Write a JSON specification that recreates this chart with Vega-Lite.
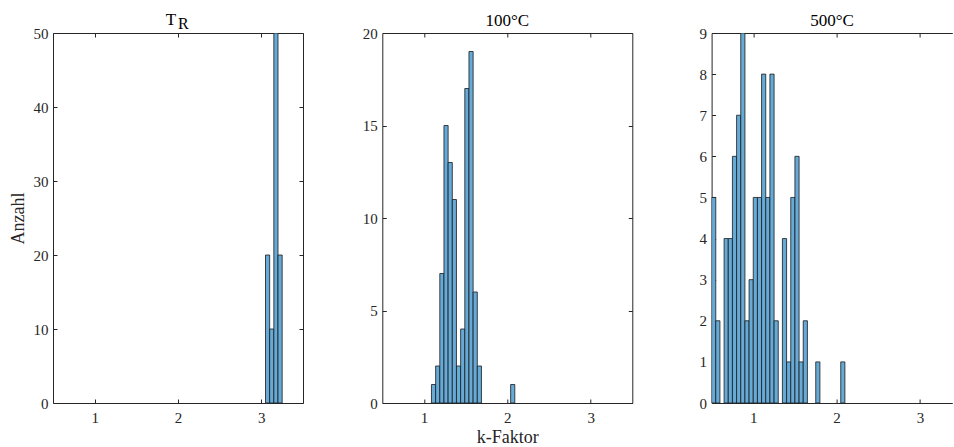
{
  "$schema": "https://vega.github.io/schema/vega-lite/v6.json",
  "padding": {"left": 9, "top": 10, "right": 0, "bottom": 1},
  "spacing": 79.3,
  "bounds": "flush",
  "data": {"values": [
    {"temp": "TR", "k0": 3.05, "k1": 3.10, "anzahl": 20},
    {"temp": "TR", "k0": 3.10, "k1": 3.15, "anzahl": 10},
    {"temp": "TR", "k0": 3.15, "k1": 3.20, "anzahl": 50},
    {"temp": "TR", "k0": 3.20, "k1": 3.25, "anzahl": 20},
    {"temp": "100", "k0": 1.09, "k1": 1.14, "anzahl": 1},
    {"temp": "100", "k0": 1.14, "k1": 1.19, "anzahl": 2},
    {"temp": "100", "k0": 1.19, "k1": 1.24, "anzahl": 7},
    {"temp": "100", "k0": 1.24, "k1": 1.29, "anzahl": 15},
    {"temp": "100", "k0": 1.29, "k1": 1.34, "anzahl": 13},
    {"temp": "100", "k0": 1.34, "k1": 1.39, "anzahl": 11},
    {"temp": "100", "k0": 1.39, "k1": 1.44, "anzahl": 2},
    {"temp": "100", "k0": 1.44, "k1": 1.49, "anzahl": 4},
    {"temp": "100", "k0": 1.49, "k1": 1.54, "anzahl": 17},
    {"temp": "100", "k0": 1.54, "k1": 1.59, "anzahl": 19},
    {"temp": "100", "k0": 1.59, "k1": 1.64, "anzahl": 6},
    {"temp": "100", "k0": 1.64, "k1": 1.69, "anzahl": 2},
    {"temp": "100", "k0": 2.04, "k1": 2.09, "anzahl": 1},
    {"temp": "500", "k0": 0.50, "k1": 0.55, "anzahl": 5},
    {"temp": "500", "k0": 0.55, "k1": 0.60, "anzahl": 2},
    {"temp": "500", "k0": 0.65, "k1": 0.70, "anzahl": 4},
    {"temp": "500", "k0": 0.70, "k1": 0.75, "anzahl": 4},
    {"temp": "500", "k0": 0.75, "k1": 0.80, "anzahl": 6},
    {"temp": "500", "k0": 0.80, "k1": 0.85, "anzahl": 7},
    {"temp": "500", "k0": 0.85, "k1": 0.90, "anzahl": 9},
    {"temp": "500", "k0": 0.90, "k1": 0.95, "anzahl": 2},
    {"temp": "500", "k0": 0.95, "k1": 1.00, "anzahl": 3},
    {"temp": "500", "k0": 1.00, "k1": 1.05, "anzahl": 5},
    {"temp": "500", "k0": 1.05, "k1": 1.10, "anzahl": 5},
    {"temp": "500", "k0": 1.10, "k1": 1.15, "anzahl": 8},
    {"temp": "500", "k0": 1.15, "k1": 1.20, "anzahl": 5},
    {"temp": "500", "k0": 1.20, "k1": 1.25, "anzahl": 8},
    {"temp": "500", "k0": 1.25, "k1": 1.30, "anzahl": 2},
    {"temp": "500", "k0": 1.35, "k1": 1.40, "anzahl": 4},
    {"temp": "500", "k0": 1.40, "k1": 1.45, "anzahl": 1},
    {"temp": "500", "k0": 1.45, "k1": 1.50, "anzahl": 5},
    {"temp": "500", "k0": 1.50, "k1": 1.55, "anzahl": 6},
    {"temp": "500", "k0": 1.55, "k1": 1.60, "anzahl": 1},
    {"temp": "500", "k0": 1.60, "k1": 1.65, "anzahl": 2},
    {"temp": "500", "k0": 1.75, "k1": 1.80, "anzahl": 1},
    {"temp": "500", "k0": 2.05, "k1": 2.10, "anzahl": 1}
  ]},
  "config": {
    "font": "Liberation Serif",
    "view": {"stroke": null},
    "axis": {
      "grid": false,
      "domainColor": "#262626",
      "tickColor": "#262626",
      "labelColor": "#262626",
      "titleColor": "#262626",
      "labelFont": "Liberation Serif",
      "titleFont": "Liberation Serif",
      "labelFontSize": 15,
      "titleFontSize": 18,
      "titleFontWeight": "normal",
      "tickSize": -4,
      "domainWidth": 1,
      "tickWidth": 1
    },
    "axisX": {"labelPadding": 11},
    "axisY": {"labelPadding": 9},
    "title": {
      "font": "Liberation Serif",
      "fontSize": 17,
      "fontWeight": "normal",
      "color": "#000000",
      "anchor": "middle",
      "frame": "group",
      "baseline": "alphabetic",
      "offset": -4
    }
  },
  "hconcat": [
    {
      "width": 250,
      "height": 370,
      "title": {"text": "T", "dx": -7, "offset": -13.6},
      "transform": [{"filter": "datum.temp === 'TR'"}],
      "layer": [
        {
          "mark": {"type": "bar", "fill": "#66AAD7", "stroke": "#1a1a1a", "strokeWidth": 0.8, "clip": true},
          "encoding": {
            "x": {"field": "k0", "type": "quantitative", "scale": {"domain": [0.5, 3.5], "nice": false, "zero": false}, "axis": {"orient": "bottom", "values": [1, 2, 3], "title": null}},
            "x2": {"field": "k1"},
            "y": {"field": "anzahl", "type": "quantitative", "scale": {"domain": [0, 50], "nice": false}, "axis": {"orient": "left", "values": [0, 10, 20, 30, 40, 50], "title": "Anzahl", "titlePadding": 5.5}},
            "y2": {"datum": 0}
          }
        },
        {
          "mark": {"type": "bar", "opacity": 0},
          "encoding": {
            "x": {"field": "k0", "type": "quantitative", "scale": {"domain": [0.5, 3.5], "nice": false, "zero": false}, "axis": {"orient": "top", "values": [1, 2, 3], "labels": false, "title": "R", "titleX": 124.5, "titleY": -4.7, "titleAlign": "left", "titleBaseline": "alphabetic", "titleAngle": 0, "titleFontSize": 16, "titleColor": "#000000", "titleFont": "Liberation Serif"}},
            "x2": {"field": "k1"},
            "y": {"field": "anzahl", "type": "quantitative", "scale": {"domain": [0, 50], "nice": false}, "axis": {"orient": "right", "values": [0, 10, 20, 30, 40, 50], "labels": false, "title": null}},
            "y2": {"datum": 0}
          }
        }
      ],
      "resolve": {"axis": {"x": "independent", "y": "independent"}}
    },
    {
      "width": 250,
      "height": 370,
      "title": {"text": "100°C"},
      "transform": [{"filter": "datum.temp === '100'"}],
      "layer": [
        {
          "mark": {"type": "bar", "fill": "#66AAD7", "stroke": "#1a1a1a", "strokeWidth": 0.8, "clip": true},
          "encoding": {
            "x": {"field": "k0", "type": "quantitative", "scale": {"domain": [0.5, 3.5], "nice": false, "zero": false}, "axis": {"orient": "bottom", "values": [1, 2, 3], "title": "k-Faktor", "titlePadding": 3}},
            "x2": {"field": "k1"},
            "y": {"field": "anzahl", "type": "quantitative", "scale": {"domain": [0, 20], "nice": false}, "axis": {"orient": "left", "values": [0, 5, 10, 15, 20], "title": null}},
            "y2": {"datum": 0}
          }
        },
        {
          "mark": {"type": "bar", "opacity": 0},
          "encoding": {
            "x": {"field": "k0", "type": "quantitative", "scale": {"domain": [0.5, 3.5], "nice": false, "zero": false}, "axis": {"orient": "top", "values": [1, 2, 3], "labels": false, "title": null}},
            "x2": {"field": "k1"},
            "y": {"field": "anzahl", "type": "quantitative", "scale": {"domain": [0, 20], "nice": false}, "axis": {"orient": "right", "values": [0, 5, 10, 15, 20], "labels": false, "title": null}},
            "y2": {"datum": 0}
          }
        }
      ],
      "resolve": {"axis": {"x": "independent", "y": "independent"}}
    },
    {
      "width": 240.7,
      "height": 370,
      "title": {"text": "500°C"},
      "transform": [{"filter": "datum.temp === '500'"}],
      "layer": [
        {
          "mark": {"type": "bar", "fill": "#66AAD7", "stroke": "#1a1a1a", "strokeWidth": 0.8, "clip": true},
          "encoding": {
            "x": {"field": "k0", "type": "quantitative", "scale": {"domain": [0.5, 3.389], "nice": false, "zero": false}, "axis": {"orient": "bottom", "values": [1, 2, 3], "title": null}},
            "x2": {"field": "k1"},
            "y": {"field": "anzahl", "type": "quantitative", "scale": {"domain": [0, 9], "nice": false}, "axis": {"orient": "left", "values": [0, 1, 2, 3, 4, 5, 6, 7, 8, 9], "title": null}},
            "y2": {"datum": 0}
          }
        },
        {
          "mark": {"type": "bar", "opacity": 0},
          "encoding": {
            "x": {"field": "k0", "type": "quantitative", "scale": {"domain": [0.5, 3.389], "nice": false, "zero": false}, "axis": {"orient": "top", "values": [1, 2, 3], "labels": false, "title": null}},
            "x2": {"field": "k1"},
            "y": {"field": "anzahl", "type": "quantitative", "scale": {"domain": [0, 9], "nice": false}, "axis": null},
            "y2": {"datum": 0}
          }
        }
      ],
      "resolve": {"axis": {"x": "independent", "y": "independent"}}
    }
  ]
}
